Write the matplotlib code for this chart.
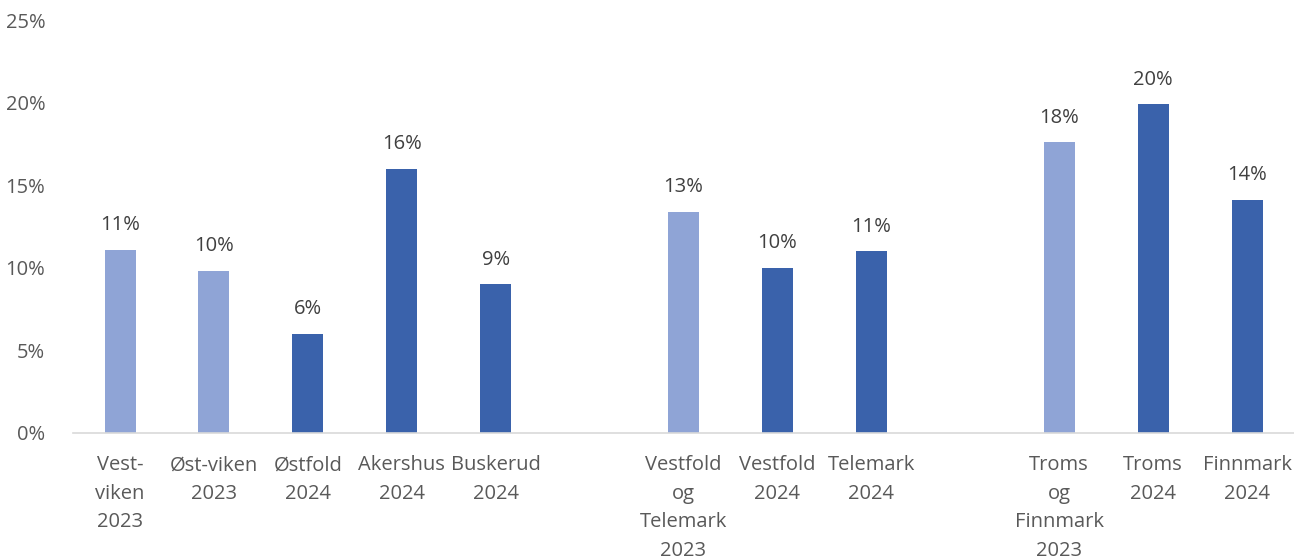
import numpy as np
import matplotlib.pyplot as plt

plt.rcParams['font.family'] = ['Open Sans', 'DejaVu Sans']

# empty strings are the gaps between the regions
labels = ['Vest-\nviken\n2023', 'Øst-viken\n2023', 'Østfold\n2024', 'Akershus\n2024', 'Buskerud\n2024',
          '',
          'Vestfold\nog\nTelemark\n2023', 'Vestfold\n2024', 'Telemark\n2024',
          '',
          'Troms\nog\nFinnmark\n2023', 'Troms\n2024', 'Finnmark\n2024']
values = [11.1, 9.8, 6.0, 16.0, 9.0, np.nan, 13.4, 10.0, 11.0, np.nan, 17.6, 19.9, 14.1]
year = [2023, 2023, 2024, 2024, 2024, 0, 2023, 2024, 2024, 0, 2023, 2024, 2024]

light = '#8FA4D6'
dark = '#3A62AB'

fig = plt.figure(figsize=(12.94, 5.6), dpi=100)
ax = fig.add_axes([0.0565, 0.2268, 0.9435, 0.737])

x = np.arange(len(labels))
colors = [light if y == 2023 else dark for y in year]
bars = ax.bar(x, values, width=0.33, color=colors)

for xi, v in zip(x, values):
    if not np.isnan(v):
        ax.text(xi, v + 0.9, f'{v:.0f}%', ha='center', va='bottom', fontsize=14.5, color='#404040')

ax.set_xlim(-0.5, len(labels) - 0.5)
ax.set_ylim(0, 25)
ax.set_yticks([0, 5, 10, 15, 20, 25])
ax.set_yticklabels([f'{t}%' for t in [0, 5, 10, 15, 20, 25]])
ax.set_xticks(x)
ax.set_xticklabels(labels, linespacing=1.57)

for s in ['top', 'right', 'left']:
    ax.spines[s].set_visible(False)
ax.spines['bottom'].set_color('#D9D9D9')
ax.spines['bottom'].set_linewidth(1.2)
ax.tick_params(axis='both', length=0, labelsize=14.5, labelcolor='#595959')
ax.tick_params(axis='x', pad=16)
ax.tick_params(axis='y', pad=20)

fig.savefig('out.png', dpi=100)
